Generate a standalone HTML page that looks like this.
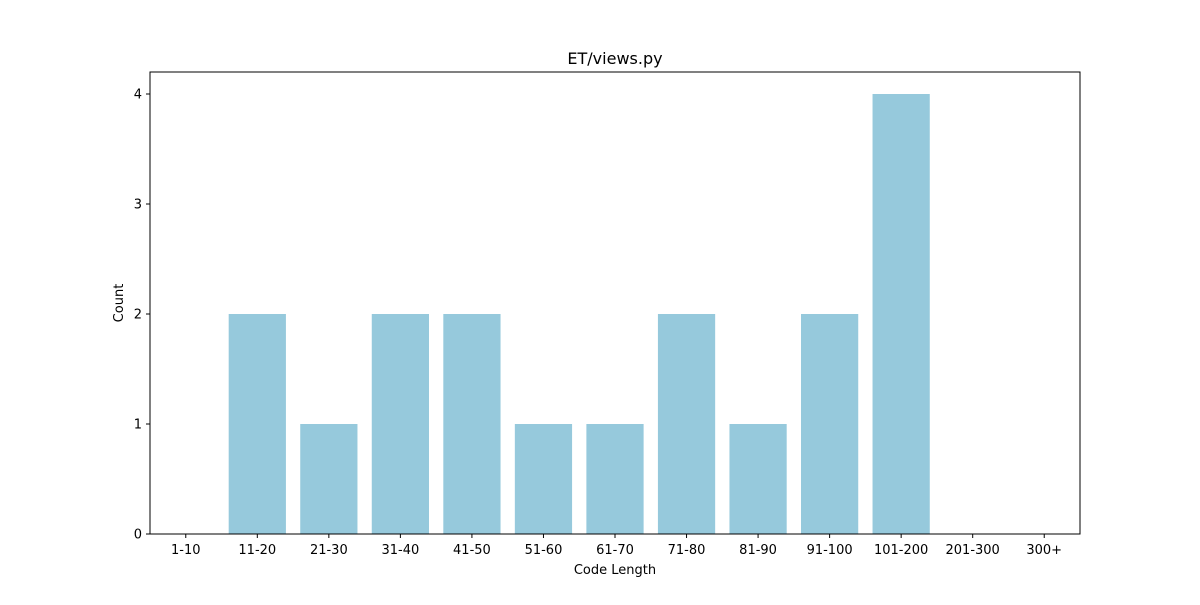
<!DOCTYPE html>
<html><head><meta charset="utf-8"><style>
body{margin:0;background:#fff}
svg text{font-family:"DejaVu Sans","Liberation Sans",sans-serif;fill:#000}
</style></head><body>
<svg id="chart" width="1200" height="600" xmlns="http://www.w3.org/2000/svg">
<rect width="1200" height="600" fill="#fff"/>
<text x="615" y="64" font-size="16" text-anchor="middle">ET/views.py</text>
<g id="bars"></g>
<g id="ticks"></g>
<rect x="150" y="72" width="930" height="462" fill="none" stroke="#000" stroke-width="1"/>
<text x="615" y="574" font-size="13" text-anchor="middle">Code Length</text>
<text x="123" y="303" font-size="13" text-anchor="middle" transform="rotate(-90 123 303)">Count</text>
</svg>
<script>
const categories=["1-10","11-20","21-30","31-40","41-50","51-60","61-70","71-80","81-90","91-100","101-200","201-300","300+"];
const counts=[0,2,1,2,2,1,1,2,1,2,4,0,0];
const yTicks=[0,1,2,3,4];
const L=150,R=1080,T=72,B=534,yMax=4.2;
const NS="http://www.w3.org/2000/svg";
const step=(R-L)/categories.length;
const xs=i=>L+(i+0.5)*step;
const ys=v=>B-(v/yMax)*(B-T);
const bars=document.getElementById('bars'),ticks=document.getElementById('ticks');
function mk(t,a){const e=document.createElementNS(NS,t);for(const k in a)e.setAttribute(k,a[k]);return e;}
categories.forEach((c,i)=>{
  const w=step*0.8;
  const r=mk('rect',{x:xs(i)-w/2,y:ys(counts[i]),width:w,height:B-ys(counts[i]),fill:'#96c9dc'});
  
  
  bars.appendChild(r);
  const tk=mk('line',{x1:xs(i),x2:xs(i),y1:B,y2:B+4,stroke:'#000'});
  
  
  ticks.appendChild(tk);
  const tx=mk('text',{x:xs(i),y:B+20,'font-size':13,'text-anchor':'middle'});
  tx.textContent=c;
  
  
  ticks.appendChild(tx);
});
yTicks.forEach(v=>{
  const tk=mk('line',{x1:L-4,x2:L,y1:ys(v),y2:ys(v),stroke:'#000'});
  
  
  ticks.appendChild(tk);
  const tx=mk('text',{x:L-8,y:ys(v)+4.5,'font-size':13,'text-anchor':'end'});
  tx.textContent=v;
  
  
  ticks.appendChild(tx);
});
</script>
</body></html>
